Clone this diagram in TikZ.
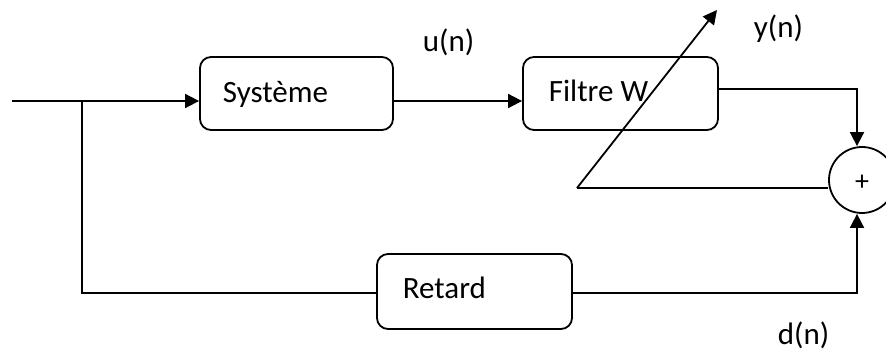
\documentclass[tikz,border=0pt]{standalone}
\usepackage{fontspec}
\setmainfont{Carlito}
\usetikzlibrary{arrows.meta}
\begin{document}
\begin{tikzpicture}[x=1pt,y=-1pt,
  line width=1.8pt,
  >={Triangle[length=14pt,width=14pt]},
  blk/.style={draw,rounded corners=11pt,inner sep=0pt},
  txt/.style={anchor=base west,inner sep=0pt,font=\fontsize{31}{36}\selectfont},
  sumc/.style={draw,circle,inner sep=0pt,minimum size=66pt}]
\useasboundingbox (0,0) rectangle (886,352);
% blocks
\node[blk,minimum width=193pt,minimum height=73pt] (sys) at (296.5,93.5) {};
\node[blk,minimum width=195pt,minimum height=73pt] (fil) at (620.5,93.5) {};
\node[blk,minimum width=195pt,minimum height=75pt] (ret) at (474.5,291.5) {};
\node[sumc] (sum) at (862,180) {};
% texts
\node[txt] (tsys) at (222,103) {Système};
\node[txt] (tfil) at (548,102) {Filtre W};
\node[txt] (tret) at (402,299) {Retard};
\node[txt] (tu) at (422,52) {u(n)};
\node[txt] (ty) at (753,38) {y(n)};
\node[txt] (td) at (777,345) {d(n)};
\node[inner sep=0pt,font=\fontsize{28}{32}\selectfont] (tplus) at (862,183) {+};
% coordinates
\coordinate (in) at (12,101);
\coordinate (j) at (82,101);
\coordinate (jb) at (82,293);
\coordinate (fy) at (857,89);
\coordinate (ry) at (857,293);
\coordinate (d0) at (577,188);
\coordinate (d1) at (717,10);
% connectors
\draw[->] (in) -- (in -| sys.west);
\draw[->] (sys.east |- in) -- (fil.west |- in);
\draw (j) -- (jb) -- (jb -| ret.west);
\draw[->] (fil.east |- fy) -- (fy) -- (fy |- sum.north);
\draw[->] (ret.east |- ry) -- (ry) -- (ry |- sum.south);
\draw[->] (d0) -- (d1);
\draw (d0) -- (sum.180 |- d0);
\end{tikzpicture}
\end{document}
